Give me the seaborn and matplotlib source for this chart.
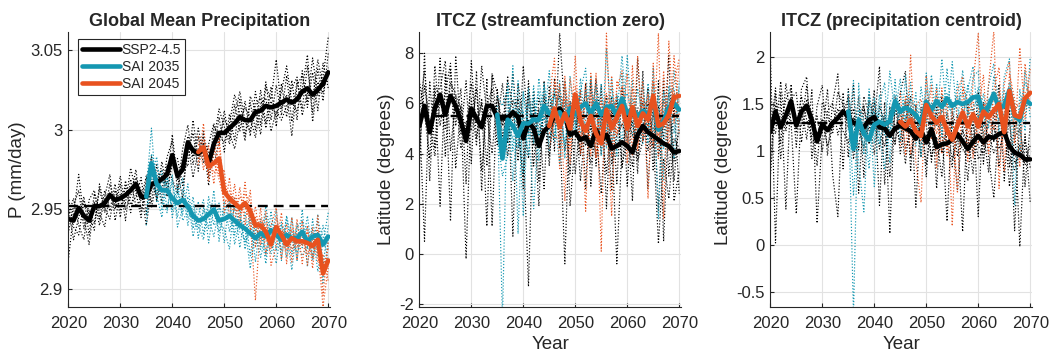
import numpy as np
import pandas as pd
import matplotlib
matplotlib.use("Agg")
import matplotlib.pyplot as plt
from matplotlib.ticker import FuncFormatter
import seaborn as sns

# ---------------------------------------------------------------- time axes
YEARS_SSP = np.arange(2020, 2071)
YEARS_SAI2035 = np.arange(2035, 2071)
YEARS_SAI2045 = np.arange(2045, 2071)

SCENARIOS = ["SSP2-4.5", "SAI 2035", "SAI 2045"]
SCENARIO_YEARS = [YEARS_SSP, YEARS_SAI2035, YEARS_SAI2045]
COLORS = ["#000000", "#1497b1", "#e8521f"]

PANEL_TITLES = ["Global Mean Precipitation", "ITCZ (streamfunction zero)",
                "ITCZ (precipitation centroid)"]
Y_LABELS = ["P (mm/day)", "Latitude (degrees)", "Latitude (degrees)"]
X_LABELS = ["", "Year", "Year"]
X_TICKS = [2020, 2030, 2040, 2050, 2060, 2070]
Y_TICKS = [[2.9, 2.95, 3.0, 3.05], [-2, 0, 2, 4, 6, 8], [-0.5, 0, 0.5, 1, 1.5, 2]]
Y_LIMITS = [(2.889, 3.0615), (-2.11, 8.86), (-0.66, 2.27)]
BASELINE = [2.952, 5.5, 1.3]   # 2020-2039 reference level

# ------------------------------------------------ global mean precipitation
P_SSP_MEAN = [2.944, 2.943, 2.951, 2.946, 2.943, 2.952, 2.952, 2.954, 2.959, 2.956,
              2.957, 2.959, 2.962, 2.966, 2.958, 2.958, 2.966, 2.967, 2.969, 2.972,
              2.984, 2.971, 2.975, 2.992, 2.987, 2.985, 2.988, 2.979, 2.991, 2.998,
              2.998, 3.001, 3.004, 3.008, 3.006, 3.006, 3.011, 3.012, 3.015, 3.014,
              3.015, 3.017, 3.019, 3.017, 3.019, 3.024, 3.026, 3.022, 3.025, 3.029,
              3.036]
P_SSP_MEMBERS = [
    [2.935, 2.952, 2.962, 2.938, 2.950, 2.941, 2.963, 2.948, 2.966, 2.952,
     2.971, 2.950, 2.958, 2.975, 2.949, 2.962, 2.955, 2.978, 2.961, 2.983,
     2.993, 2.962, 2.988, 3.003, 2.978, 2.996, 2.979, 2.991, 3.004, 2.990,
     3.012, 2.994, 3.016, 2.999, 3.018, 2.996, 3.024, 3.003, 3.030, 3.006,
     3.028, 3.009, 3.034, 3.005, 3.031, 3.013, 3.040, 3.011, 3.038, 3.018,
     3.048],
    [2.952, 2.931, 2.945, 2.958, 2.934, 2.960, 2.944, 2.962, 2.949, 2.966,
     2.945, 2.968, 2.953, 2.958, 2.970, 2.947, 2.975, 2.957, 2.980, 2.962,
     2.978, 2.982, 2.965, 2.985, 2.998, 2.974, 2.999, 2.970, 2.985, 3.008,
     2.986, 3.010, 2.993, 3.019, 2.996, 3.017, 3.000, 3.025, 3.004, 3.027,
     3.002, 3.029, 3.008, 3.031, 3.006, 3.037, 3.014, 3.036, 3.012, 3.042,
     3.026],
    [2.918, 2.947, 2.972, 2.944, 2.928, 2.955, 2.940, 2.958, 2.972, 2.943,
     2.960, 2.954, 2.976, 2.961, 2.945, 2.969, 2.983, 2.955, 2.971, 2.966,
     2.997, 2.968, 2.979, 2.996, 2.983, 3.001, 2.984, 2.973, 3.002, 2.997,
     2.992, 3.004, 3.022, 3.010, 2.993, 3.021, 3.013, 2.997, 3.027, 3.019,
     3.044, 3.013, 3.022, 2.996, 3.028, 3.034, 3.018, 3.045, 3.021, 3.033,
     3.058],
    [2.958, 2.939, 2.934, 2.955, 2.947, 2.937, 2.966, 2.951, 2.944, 2.962,
     2.950, 2.965, 2.948, 2.970, 2.962, 2.940, 2.963, 2.972, 2.954, 2.978,
     2.969, 2.960, 2.981, 2.977, 3.006, 2.982, 2.992, 2.965, 2.994, 3.013,
     3.002, 2.991, 3.009, 3.024, 3.005, 2.999, 3.016, 3.020, 3.001, 3.018,
     3.008, 3.024, 3.040, 3.017, 3.012, 3.026, 3.047, 3.005, 3.030, 3.023,
     3.039],
    [2.946, 2.957, 2.940, 2.931, 2.956, 2.962, 2.948, 2.939, 2.961, 2.950,
     2.966, 2.943, 2.969, 2.952, 2.956, 2.971, 2.951, 2.968, 2.975, 2.958,
     2.983, 2.974, 2.957, 2.992, 2.970, 2.987, 2.995, 2.986, 2.978, 2.993,
     3.007, 2.998, 2.988, 3.005, 3.014, 3.008, 2.995, 3.016, 3.020, 2.999,
     3.012, 3.006, 3.015, 3.026, 3.033, 3.009, 3.023, 3.019, 3.044, 3.027,
     3.031],
]
P_SAI2035_MEAN = [2.958, 2.979, 2.966, 2.962, 2.962, 2.957, 2.954, 2.956, 2.952, 2.946,
                  2.943, 2.944, 2.947, 2.950, 2.943, 2.944, 2.946, 2.943, 2.940, 2.938,
                  2.935, 2.932, 2.935, 2.933, 2.937, 2.934, 2.931, 2.934, 2.932, 2.932,
                  2.936, 2.930, 2.933, 2.934, 2.928, 2.933]
P_SAI2035_MEMBERS = [
    [2.962, 3.001, 2.955, 2.974, 2.950, 2.968, 2.945, 2.963, 2.940, 2.958,
     2.932, 2.951, 2.938, 2.962, 2.930, 2.955, 2.936, 2.952, 2.926, 2.948,
     2.921, 2.943, 2.925, 2.946, 2.928, 2.950, 2.918, 2.945, 2.922, 2.941,
     2.926, 2.946, 2.920, 2.947, 2.915, 2.940],
    [2.947, 2.985, 2.972, 2.950, 2.976, 2.945, 2.962, 2.947, 2.966, 2.938,
     2.955, 2.934, 2.958, 2.940, 2.954, 2.929, 2.957, 2.934, 2.951, 2.925,
     2.946, 2.917, 2.944, 2.921, 2.949, 2.924, 2.942, 2.920, 2.945, 2.918,
     2.950, 2.914, 2.944, 2.921, 2.940, 2.925],
    [2.969, 2.968, 2.983, 2.957, 2.948, 2.972, 2.939, 2.951, 2.958, 2.933,
     2.947, 2.956, 2.929, 2.953, 2.936, 2.949, 2.955, 2.928, 2.944, 2.939,
     2.913, 2.938, 2.931, 2.952, 2.933, 2.916, 2.940, 2.935, 2.912, 2.939,
     2.943, 2.925, 2.937, 2.911, 2.929, 2.948],
    [2.940, 2.974, 2.961, 2.968, 2.965, 2.951, 2.958, 2.970, 2.945, 2.952,
     2.940, 2.931, 2.953, 2.947, 2.941, 2.938, 2.925, 2.957, 2.936, 2.931,
     2.950, 2.927, 2.938, 2.916, 2.941, 2.939, 2.924, 2.946, 2.930, 2.923,
     2.932, 2.939, 2.918, 2.936, 2.904, 2.931],
    [2.971, 2.966, 2.959, 2.945, 2.970, 2.949, 2.966, 2.943, 2.949, 2.944,
     2.938, 2.949, 2.945, 2.933, 2.951, 2.947, 2.943, 2.939, 2.945, 2.929,
     2.937, 2.935, 2.920, 2.934, 2.922, 2.936, 2.931, 2.927, 2.936, 2.928,
     2.921, 2.927, 2.930, 2.942, 2.933, 2.918],
]
P_SAI2045_MEAN = [2.986, 2.989, 2.977, 2.979, 2.982, 2.961, 2.957, 2.954, 2.951, 2.954,
                  2.949, 2.940, 2.940, 2.936, 2.928, 2.939, 2.934, 2.928, 2.932, 2.930,
                  2.930, 2.929, 2.927, 2.931, 2.910, 2.918]
P_SAI2045_MEMBERS = [
    [2.996, 2.975, 2.990, 2.966, 2.993, 2.948, 2.970, 2.941, 2.964, 2.940,
     2.962, 2.926, 2.951, 2.922, 2.940, 2.951, 2.919, 2.941, 2.917, 2.944,
     2.916, 2.940, 2.913, 2.946, 2.896, 2.930],
    [2.978, 3.004, 2.968, 2.992, 2.971, 2.975, 2.945, 2.966, 2.939, 2.967,
     2.937, 2.952, 2.928, 2.949, 2.915, 2.927, 2.948, 2.916, 2.945, 2.918,
     2.943, 2.915, 2.939, 2.917, 2.922, 2.905],
    [2.991, 2.983, 2.972, 2.985, 2.996, 2.959, 2.962, 2.949, 2.958, 2.951,
     2.944, 2.893, 2.944, 2.938, 2.925, 2.945, 2.931, 2.924, 2.938, 2.926,
     2.935, 2.922, 2.931, 2.925, 2.889, 2.914],
    [2.980, 2.994, 2.981, 2.973, 2.977, 2.966, 2.953, 2.958, 2.946, 2.960,
     2.955, 2.938, 2.933, 2.930, 2.934, 2.934, 2.937, 2.933, 2.925, 2.935,
     2.927, 2.936, 2.920, 2.937, 2.912, 2.926],
    [2.987, 2.990, 2.975, 2.980, 2.969, 2.955, 2.956, 2.955, 2.950, 2.948,
     2.946, 2.945, 2.940, 2.941, 2.927, 2.939, 2.932, 2.927, 2.933, 2.929,
     2.931, 2.930, 2.930, 2.929, 2.908, 2.915],
]

# ------------------------------------------ ITCZ from streamfunction zero
PSI_SSP_MEAN = [5.1, 5.9, 4.85, 5.8, 6.35, 5.55, 6.3, 5.9, 5.3, 4.5,
                5.8, 5.4, 5.05, 5.9, 5.9, 5.45, 5.4, 5.4, 5.65, 5.45,
                4.6, 5.25, 5.0, 4.3, 4.9, 5.1, 5.5, 5.8, 5.5, 4.75,
                4.85, 4.55, 4.65, 4.3, 4.95, 4.5, 4.75, 4.2, 4.3, 4.45,
                4.3, 4.05, 4.75, 5.1, 4.85, 4.7, 4.55, 4.4, 4.3, 4.05,
                4.1]
PSI_SSP_MEMBERS = [
    [5.8, 0.5, 6.9, 4.2, 7.8, 3.9, 7.4, 5.1, 6.6, 2.8,
     7.7, 4.6, 6.2, 3.5, 7.1, 5.2, 6.8, 4.4, 7.2, 4.9,
     3.1, 6.9, 4.3, 5.8, 2.6, 6.7, 4.1, 8.8, 5.6, 3.2,
     6.4, 3.9, 6.8, 2.7, 6.1, 4.0, 5.9, 2.5, 6.3, 3.4,
     5.7, 2.1, 7.8, 4.5, 6.6, 3.3, 6.9, 0.5, 5.8, 2.9,
     5.4],
    [3.2, 8.0, 2.9, 6.7, 1.9, 7.2, 1.3, 7.9, 4.8, 6.9,
     3.6, 7.3, 2.5, 7.0, 1.1, 6.6, 3.8, 7.1, 0.7, 6.8,
     5.3, 3.8, 6.5, 2.9, 6.3, 3.5, 7.0, 4.2, 6.9, 1.9,
     4.6, 6.5, 2.6, 6.9, 3.5, 6.7, 1.8, 6.2, 2.8, 6.6,
     2.7, 5.9, 3.2, 7.3, 2.6, 6.4, 1.7, 7.0, 3.1, 6.0,
     2.4],
    [6.9, 5.6, 3.8, 7.5, 5.1, 6.4, 7.6, 3.4, 5.9, -0.2,
     6.2, 4.3, 7.5, 5.6, 4.0, 6.3, 5.1, 6.9, 5.9, 3.7,
     7.5, 4.8, 5.6, 1.9, 6.9, 3.9, 5.8, 6.3, 4.1, 5.9,
     3.2, 5.4, 4.3, 5.1, 3.9, 5.3, 6.3, 3.6, 4.7, 5.2,
     4.6, 3.5, 5.8, 6.0, 4.1, 5.6, 3.9, 5.2, 6.4, 3.7,
     5.0],
    [4.1, 6.7, 5.2, 3.9, 6.2, 5.0, 6.8, 6.4, 4.2, 5.3,
     4.9, 6.6, 3.3, 5.9, 6.6, 4.3, 5.6, 3.9, 5.4, 6.2,
     4.4, -1.3, 5.9, 4.7, 5.5, 5.8, 6.4, 5.1, -0.4, 6.1,
     5.3, 4.0, 5.1, 3.6, 4.9, 2.4, 5.6, 4.8, -0.4, 4.4,
     5.2, 4.8, 3.9, 5.1, 6.0, 4.7, 0.4, 3.8, 2.2, 4.6,
     4.2],
    [5.6, 7.3, 4.9, 6.4, 6.6, 7.7, 4.1, 6.3, 5.8, 4.9,
     6.8, 5.2, 6.0, 1.1, 7.2, 6.4, 4.7, 5.5, 6.1, 5.8,
     2.6, 6.4, 3.5, 6.2, 5.4, 4.6, 5.3, 6.6, 5.4, 4.8,
     6.0, 2.9, 5.2, 4.9, 7.0, 5.1, 3.2, 5.7, 6.1, 3.5,
     4.6, 5.3, 3.7, 4.5, 5.3, 4.2, 5.9, 4.6, 7.9, 2.1,
     3.3],
]
PSI_SAI2035_MEAN = [5.55, 3.8, 5.35, 5.1, 4.7, 5.2, 5.2, 5.35, 5.35, 5.9,
                    5.6, 5.5, 5.65, 5.3, 5.8, 5.55, 5.85, 6.0, 5.6, 6.0,
                    5.55, 5.85, 5.9, 5.5, 6.2, 5.6, 5.8, 5.5, 5.7, 5.55,
                    6.1, 4.95, 5.3, 5.85, 6.0, 5.75]
PSI_SAI2035_MEMBERS = [
    [5.9, -2.6, 6.8, 4.1, 6.9, 3.2, 6.6, 4.4, 7.0, 5.3,
     7.3, 4.6, 6.9, 3.8, 7.1, 4.9, 6.5, 7.4, 4.2, 6.8,
     3.9, 8.2, 5.0, 6.4, 4.3, 7.9, 5.1, 4.6, 6.9, 4.4,
     7.4, 1.4, 6.2, 4.9, 7.3, 5.6],
    [4.8, 3.1, 3.9, 7.5, 0.8, 6.5, 4.6, 6.7, 3.7, 6.8,
     4.1, 6.6, 5.0, 6.9, 4.6, 6.4, 4.8, 5.3, 7.1, 4.7,
     6.8, 4.2, 7.0, 3.9, 7.2, 4.3, 6.9, 5.0, 4.4, 6.8,
     4.9, 6.3, 2.9, 6.7, 4.8, 6.6],
    [6.3, 5.9, 6.6, 2.9, 5.8, 1.5, 6.0, 5.3, 6.5, 4.8,
     6.3, 5.4, 3.6, 6.1, 5.5, 4.8, 7.0, 4.9, 5.8, 6.6,
     5.0, 6.1, 4.4, 5.5, 7.9, 5.2, 4.7, 6.6, 5.3, 4.9,
     6.8, 4.1, 6.5, 5.6, 3.8, 6.9],
    [5.2, 4.6, 4.5, 5.8, 4.3, 6.4, 5.0, 1.8, 5.4, 6.7,
     5.5, 6.3, 5.8, 4.4, 6.0, 6.1, 5.3, 6.6, 5.1, 5.9,
     6.1, 4.9, 6.3, 5.7, 5.6, 4.8, 6.2, 5.4, 6.0, 5.5,
     5.8, 5.5, 4.2, 6.4, 6.6, 4.7],
    [5.6, 4.9, 5.1, 4.6, 4.2, 5.7, 3.9, 6.2, 4.7, 5.8,
     5.0, 4.5, 6.2, 5.3, 5.9, 5.2, 5.7, 6.3, 5.6, 6.2,
     5.4, 6.0, 6.6, 5.2, 6.1, 6.4, 5.5, 4.9, 6.2, 5.8,
     5.6, 5.3, 5.7, 5.9, 6.4, 5.3],
]
PSI_SAI2045_MEAN = [5.1, 5.8, 5.05, 5.6, 5.0, 6.35, 5.3, 4.9, 5.5, 4.8,
                    4.4, 5.75, 5.0, 5.45, 5.9, 5.0, 5.85, 5.1, 5.6, 5.35,
                    6.3, 5.1, 5.2, 5.55, 6.25, 6.3]
PSI_SAI2045_MEMBERS = [
    [6.2, 7.8, 3.4, 7.1, 4.2, 7.9, 4.0, 6.8, 3.9, 7.2,
     0.1, 8.8, 3.9, 6.6, 7.3, 3.6, 7.5, 4.2, 6.9, 2.2,
     7.6, 3.8, 7.3, 4.1, 7.9, 5.5],
    [4.2, 5.3, 6.8, 2.1, 7.0, 5.6, 6.5, 1.7, 7.2, 3.9,
     6.2, 4.3, 7.1, 4.8, 5.1, 7.2, 3.9, 7.9, 4.5, 6.4,
     4.3, 8.8, 1.4, 8.5, 5.2, 7.6],
    [5.0, 6.9, 5.4, 6.2, 3.6, 6.7, 5.8, 5.3, 4.4, 5.6,
     4.5, 5.9, 1.5, 6.9, 6.3, 4.4, 6.6, 4.1, 6.2, 5.0,
     6.9, 4.7, 6.1, 5.3, 6.8, 7.8],
    [5.5, 4.6, 4.7, 6.8, 5.4, 5.9, 4.6, 6.1, 6.3, 3.8,
     5.3, 6.4, 5.5, 4.7, 6.7, 5.5, 6.0, 5.6, 5.9, 6.1,
     5.8, 4.4, 5.7, 4.9, 6.5, 4.8],
    [4.8, 5.2, 5.6, 5.4, 5.9, 6.2, 5.1, 4.7, 5.6, 4.4,
     5.0, 5.7, 6.1, 5.2, 5.7, 4.9, 5.6, 5.5, 4.9, 5.7,
     6.2, 5.6, 5.0, 6.0, 5.9, 6.1],
]

# ------------------------------------ ITCZ from the precipitation centroid
CEN_SSP_MEAN = [1.20, 1.42, 1.25, 1.38, 1.53, 1.27, 1.42, 1.48, 1.33, 1.10,
                1.28, 1.22, 1.30, 1.35, 1.42, 1.36, 1.30, 1.27, 1.25, 1.33,
                1.36, 1.25, 1.24, 1.16, 1.24, 1.27, 1.24, 1.21, 1.13, 1.22,
                1.09, 1.23, 1.04, 1.07, 1.08, 1.12, 1.18, 1.10, 1.02, 1.10,
                1.16, 1.09, 1.15, 1.14, 1.18, 1.20, 1.05, 0.98, 0.96, 0.91,
                0.91]
CEN_SSP_MEMBERS = [
    [2.05, 0.02, 1.62, 0.38, 1.71, 1.04, 1.66, 1.79, 0.92, 1.48,
     1.70, 0.95, 1.52, 1.82, 0.81, 1.66, 1.12, 1.58, 0.72, 1.61,
     1.28, 1.90, 0.64, 1.47, 1.06, 1.62, 1.85, 0.78, 1.49, 0.93,
     1.55, 0.88, 1.48, 1.27, 0.25, 1.42, 1.20, 0.14, 1.51, 0.97,
     1.63, 0.86, 1.47, 1.09, 1.71, 0.68, 1.44, 0.15, 1.37, 0.62,
     1.28],
    [0.86, 1.61, 1.08, 1.72, 1.30, 0.33, 1.48, 1.12, 1.65, 0.23,
     1.18, 1.66, 0.74, 0.30, 1.62, 0.93, 1.71, 0.55, 1.46, 1.21,
     1.65, 0.42, 1.52, 0.12, 1.58, 0.97, 1.33, 1.58, 0.40, 1.47,
     0.72, 1.49, 0.60, 1.58, 1.06, 0.83, 1.38, 1.27, 0.68, 1.44,
     0.30, 1.52, 0.94, 0.50, 1.33, 1.55, 0.82, 1.28, -0.02, 1.18,
     0.45],
    [1.35, 1.18, 1.74, 1.21, 1.56, 1.62, 1.09, 1.55, 1.41, 0.84,
     1.52, 1.37, 1.18, 1.63, 1.49, 1.24, 1.45, 1.01, 1.58, 1.39,
     0.96, 1.48, 1.29, 0.72, 1.44, 1.31, 0.86, 1.42, 1.12, 1.30,
     1.27, 0.93, 1.15, 0.72, 1.41, 1.17, 0.58, 1.33, 1.14, 0.76,
     1.38, 1.20, 0.77, 1.44, 0.83, 1.36, 0.62, 1.15, 1.23, 0.88,
     1.06],
    [0.72, 1.49, 1.26, 1.55, 1.67, 1.19, 1.58, 1.33, 1.15, 1.37,
     0.99, 1.42, 1.51, 1.17, 1.38, 1.58, 0.91, 1.35, 1.49, 1.07,
     1.52, 1.18, 1.05, 1.40, 1.27, 1.09, 1.53, 0.92, 1.25, 1.37,
     0.85, 1.30, 1.41, 0.98, 1.17, 1.36, 0.94, 1.22, 1.08, 1.29,
     0.91, 1.03, 1.32, 1.26, 1.02, 1.19, 1.31, 0.87, 0.95, 1.12,
     0.82],
    [1.18, 1.67, 0.92, 1.40, 1.48, 1.31, 1.27, 1.70, 1.09, 1.17,
     1.34, 1.05, 1.25, 1.45, 1.21, 1.09, 1.36, 1.24, 1.03, 1.52,
     1.41, 1.02, 1.38, 1.19, 1.09, 1.46, 1.02, 1.19, 1.14, 1.08,
     1.16, 1.24, 0.95, 1.06, 1.23, 0.91, 1.13, 1.02, 0.94, 1.18,
     1.05, 0.97, 1.19, 0.98, 1.12, 1.28, 0.93, 0.80, 1.06, 0.85,
     0.97],
]
CEN_SAI2035_MEAN = [1.42, 1.02, 1.33, 1.18, 1.12, 1.28, 1.31, 1.28, 1.32, 1.53,
                    1.42, 1.46, 1.43, 1.38, 1.30, 1.52, 1.44, 1.53, 1.47, 1.56,
                    1.48, 1.52, 1.50, 1.52, 1.57, 1.58, 1.38, 1.48, 1.61, 1.45,
                    1.48, 1.65, 1.37, 1.33, 1.55, 1.50]
CEN_SAI2035_MEMBERS = [
    [1.63, -0.75, 1.72, 0.96, 1.66, 1.08, 1.60, 1.17, 1.85, 1.39,
     1.77, 1.21, 1.73, 1.05, 1.68, 1.30, 1.81, 1.26, 1.98, 1.34,
     1.95, 1.28, 1.86, 1.37, 1.79, 1.85, 1.12, 1.70, 1.93, 1.18,
     1.79, 1.98, 0.42, 1.66, 1.21, 2.00],
    [1.22, 1.75, 0.88, 0.35, 1.58, 0.62, 1.49, 1.73, 0.87, 1.76,
     1.11, 1.80, 1.24, 1.62, 0.94, 1.83, 1.20, 1.72, 1.15, 1.88,
     1.23, 1.74, 1.36, 1.66, 1.90, 1.33, 1.61, 1.24, 1.80, 1.57,
     1.26, 1.73, 1.49, 0.95, 1.86, 1.35],
    [1.55, 0.52, 1.44, 1.35, 0.81, 1.57, 1.18, 0.80, 1.52, 1.60,
     1.48, 1.36, 1.55, 1.46, 1.21, 1.65, 1.38, 1.59, 1.40, 1.62,
     1.52, 1.45, 1.31, 1.71, 1.36, 1.68, 1.25, 1.55, 1.47, 1.33,
     1.64, 1.52, 1.18, 1.47, 1.73, 1.58],
    [1.38, 1.26, 1.19, 1.06, 1.30, 1.42, 1.07, 1.38, 1.22, 1.47,
     1.36, 1.55, 1.28, 1.38, 1.43, 1.37, 1.51, 1.44, 1.61, 1.49,
     1.40, 1.53, 1.62, 1.39, 1.48, 1.57, 1.46, 1.41, 1.58, 1.52,
     1.37, 1.60, 1.42, 1.28, 1.50, 1.45],
    [1.45, 1.18, 1.36, 1.28, 1.11, 1.34, 1.40, 1.25, 1.19, 1.52,
     1.41, 1.33, 1.47, 1.30, 1.28, 1.55, 1.40, 1.52, 1.45, 1.50,
     1.43, 1.59, 1.46, 1.52, 1.60, 1.49, 1.42, 1.50, 1.62, 1.45,
     1.51, 1.64, 1.33, 1.40, 1.57, 1.49],
]
CEN_SAI2045_MEAN = [1.31, 1.26, 1.33, 1.21, 1.16, 1.49, 1.37, 1.30, 1.36, 1.22,
                    1.12, 1.27, 1.41, 1.26, 1.39, 1.26, 1.42, 1.36, 1.43, 1.50,
                    1.20, 1.64, 1.38, 1.36, 1.56, 1.62]
CEN_SAI2045_MEMBERS = [
    [1.62, 0.95, 2.02, 0.88, 0.45, 1.80, 1.12, 1.66, 0.98, 1.58,
     0.20, 1.64, 1.79, 0.89, 1.73, 2.25, 1.06, 1.72, 2.28, 0.60,
     1.71, 1.95, 1.08, 2.10, 1.34, 1.88],
    [1.05, 1.58, 0.97, 1.49, 1.55, 1.26, 1.70, 0.82, 1.67, 0.95,
     1.46, 0.55, 1.68, 1.53, 0.92, 1.41, 1.81, 0.97, 1.65, 1.89,
     0.78, 1.82, 1.55, 0.83, 1.93, 1.45],
    [1.38, 1.20, 1.46, 1.11, 1.27, 1.55, 1.42, 1.18, 1.49, 1.20,
     1.10, 1.34, 1.27, 1.42, 1.55, 1.08, 1.50, 1.41, 1.22, 1.63,
     1.29, 1.58, 1.44, 1.51, 1.62, 1.70],
    [1.24, 1.33, 1.17, 1.36, 1.19, 1.41, 1.29, 1.40, 1.30, 1.16,
     1.27, 1.21, 1.44, 1.18, 1.37, 1.30, 1.39, 1.47, 1.35, 1.48,
     1.32, 1.57, 1.29, 1.40, 1.55, 1.60],
    [1.29, 1.31, 1.26, 1.24, 1.10, 1.48, 1.35, 1.27, 1.33, 1.25,
     1.18, 1.30, 1.36, 1.29, 1.41, 1.23, 1.38, 1.33, 1.47, 1.44,
     1.25, 1.60, 1.41, 1.33, 1.52, 1.58],
]

PANEL_MEANS = [
    [P_SSP_MEAN, P_SAI2035_MEAN, P_SAI2045_MEAN],
    [PSI_SSP_MEAN, PSI_SAI2035_MEAN, PSI_SAI2045_MEAN],
    [CEN_SSP_MEAN, CEN_SAI2035_MEAN, CEN_SAI2045_MEAN],
]
PANEL_MEMBERS = [
    [P_SSP_MEMBERS, P_SAI2035_MEMBERS, P_SAI2045_MEMBERS],
    [PSI_SSP_MEMBERS, PSI_SAI2035_MEMBERS, PSI_SAI2045_MEMBERS],
    [CEN_SSP_MEMBERS, CEN_SAI2035_MEMBERS, CEN_SAI2045_MEMBERS],
]


def members_long(years, members):
    """Stack ensemble members into one long table for seaborn."""
    parts = [pd.DataFrame({"year": years, "value": vals, "member": k})
             for k, vals in enumerate(members)]
    return pd.concat(parts, ignore_index=True)


# ------------------------------------------------------------------ styling
sns.set_theme(style="white")
plt.rcParams.update({
    "font.family": ["Liberation Sans", "DejaVu Sans"],
    "axes.unicode_minus": False,
})
INK = "#262626"

fig = plt.figure(figsize=(10.53, 3.6), dpi=100)
AX_W, AX_H, AX_B = 262 / 1053, 275 / 360, 53.3 / 360
lefts = [68.3 / 1053, 419.3 / 1053, 770.3 / 1053]
axes = [fig.add_axes([l, AX_B, AX_W, AX_H]) for l in lefts]

for i, ax in enumerate(axes):
    # individual ensemble members, dotted
    for years, members, color in zip(SCENARIO_YEARS, PANEL_MEMBERS[i], COLORS):
        sns.lineplot(data=members_long(years, members), x="year", y="value",
                     units="member", estimator=None, color=color,
                     linewidth=0.85, linestyle=(0, (1, 1.6)), legend=False, ax=ax)

    # reference level
    sns.lineplot(x=[YEARS_SSP[0], YEARS_SSP[-1]], y=[BASELINE[i], BASELINE[i]],
                 color="black", linewidth=1.7, linestyle=(0, (4.2, 2.5)),
                 legend=False, ax=ax)

    # ensemble means, thick
    handles = []
    for years, mean, color in zip(SCENARIO_YEARS, PANEL_MEANS[i], COLORS):
        sns.lineplot(x=years, y=mean, color=color, linewidth=3.3,
                     legend=False, ax=ax)
        handles.append(ax.lines[-1])

    ax.set_xlim(2020, 2070.4)
    ax.set_ylim(*Y_LIMITS[i])
    ax.set_xticks(X_TICKS)
    ax.set_yticks(Y_TICKS[i])
    ax.yaxis.set_major_formatter(FuncFormatter(lambda v, p: f"{v:g}"))
    ax.grid(True, color="#e2e2e2", linewidth=0.8)
    ax.set_axisbelow(True)
    for side in ("top", "right"):
        ax.spines[side].set_visible(False)
    for side in ("left", "bottom"):
        ax.spines[side].set_color(INK)
        ax.spines[side].set_linewidth(0.8)
    ax.tick_params(direction="in", length=3, width=0.8, color=INK,
                   labelcolor=INK, labelsize=12, left=True, bottom=True)
    ax.tick_params(axis="x", pad=7)
    ax.tick_params(axis="y", pad=4)

    ax.set_title(PANEL_TITLES[i], fontsize=13, fontweight="bold", pad=4)
    ax.set_ylabel(Y_LABELS[i], fontsize=13.5, color=INK, labelpad=3)
    ax.set_xlabel(X_LABELS[i], fontsize=13.5, color=INK, labelpad=3)

    if i == 0:
        leg = ax.legend(handles, SCENARIOS, loc="upper left",
                        bbox_to_anchor=(0.037, 0.973), borderaxespad=0,
                        fontsize=10, frameon=True, fancybox=False, framealpha=1,
                        edgecolor=INK, borderpad=0.3, labelspacing=0.2,
                        handlelength=2.7, handletextpad=0.15)
        leg.get_frame().set_linewidth(0.8)

fig.savefig("out.png", dpi=100)
